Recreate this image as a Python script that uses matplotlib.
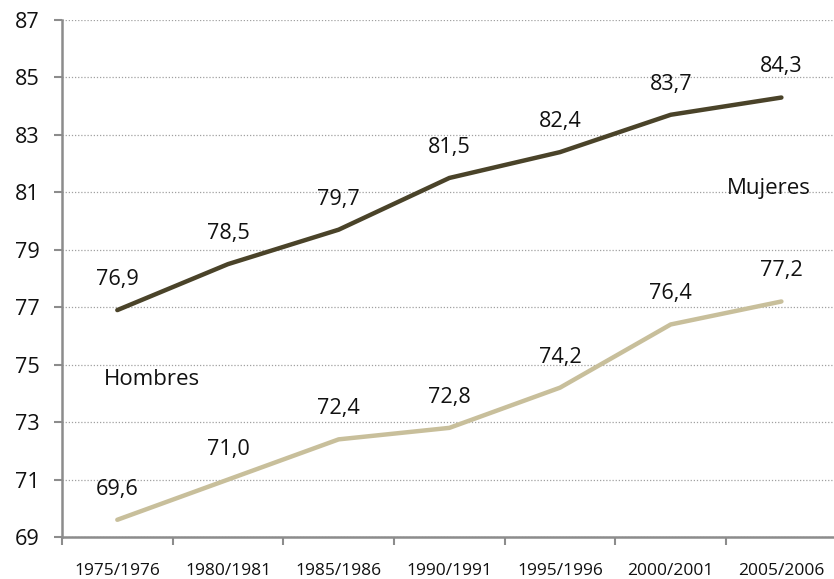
import matplotlib
matplotlib.use("Agg")
import matplotlib.pyplot as plt
from matplotlib.ticker import FixedLocator

periods = ["1975/1976", "1980/1981", "1985/1986", "1990/1991",
           "1995/1996", "2000/2001", "2005/2006"]
mujeres = [76.9, 78.5, 79.7, 81.5, 82.4, 83.7, 84.3]
hombres = [69.6, 71.0, 72.4, 72.8, 74.2, 76.4, 77.2]
y_ticks = [69, 71, 73, 75, 77, 79, 81, 83, 85, 87]

plt.rcParams["font.family"] = ["Open Sans", "DejaVu Sans"]

fig = plt.figure(figsize=(8.34, 5.79), dpi=100)
ax = fig.add_axes([0.0743, 0.0725, 0.929, 0.893])

x = list(range(len(periods)))
dark = "#4a4329"
light = "#c8bf9b"
ax.plot(x, mujeres, color=dark, lw=3.2, solid_capstyle="round", zorder=3)
ax.plot(x, hombres, color=light, lw=3.2, solid_capstyle="round", zorder=3)

for series in (mujeres, hombres):
    for xi, v in zip(x, series):
        ax.annotate(f"{v:.1f}".replace(".", ","), (xi, v), xytext=(0, 22),
                    textcoords="offset points", ha="center", va="center",
                    fontsize=15.6, color="#111111")

ax.text(5.89, 81.15, "Mujeres", ha="center", va="center", fontsize=16, color="#111111")
ax.text(0.31, 74.47, "Hombres", ha="center", va="center", fontsize=16, color="#111111")

ax.set_xlim(-0.5, 6.5)
ax.set_ylim(69, 87)
ax.set_yticks(y_ticks)
ax.set_yticklabels([str(t) for t in y_ticks], fontsize=15.6, color="#111111")
ax.set_xticks(x)
ax.set_xticklabels(periods, fontsize=12.5, color="#111111")
ax.tick_params(axis="x", which="major", length=0, pad=19)
ax.xaxis.set_minor_locator(FixedLocator([i - 0.5 for i in range(len(periods) + 1)]))
ax.tick_params(axis="x", which="minor", length=6, width=1.5, color="#8c8c8c", direction="out")
ax.tick_params(axis="y", which="major", length=6, width=1.5, color="#8c8c8c", pad=10)

ax.grid(axis="y", linestyle=(0, (1, 1.5)), color="#a0a0a0", lw=0.9)
ax.set_axisbelow(True)
for s in ("top", "right"):
    ax.spines[s].set_visible(False)
for s in ("left", "bottom"):
    ax.spines[s].set_color("#8c8c8c")
    ax.spines[s].set_linewidth(1.8)

fig.savefig("out.png", dpi=100)
